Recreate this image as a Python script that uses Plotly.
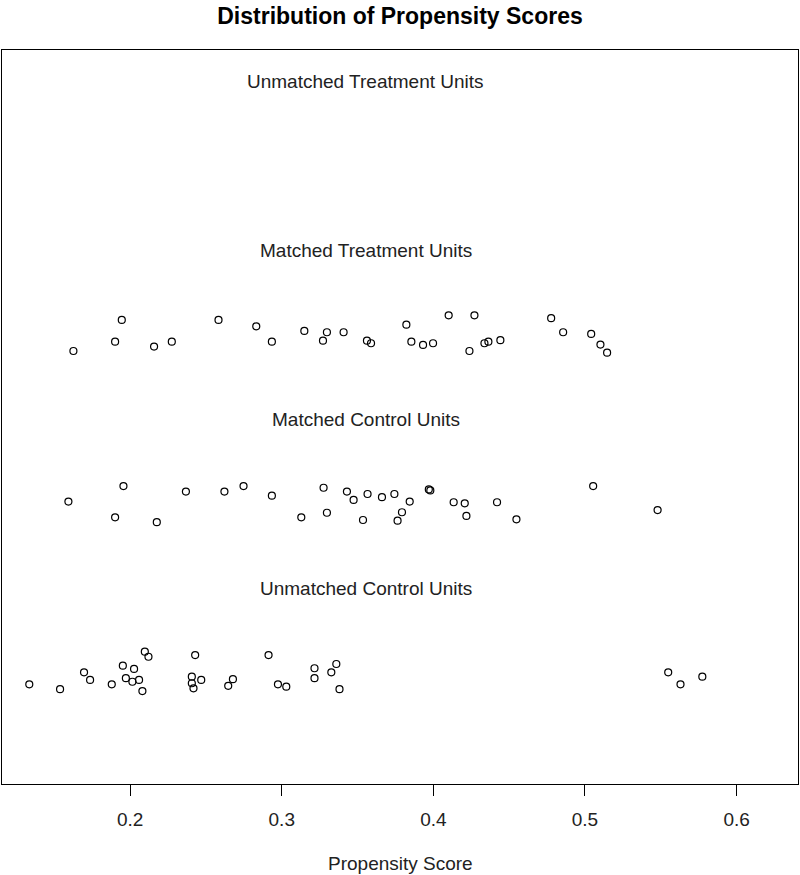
import plotly.graph_objects as go

# Matched treatment units (propensity score, jittered vertical position)
mt_x = [0.1626, 0.1945, 0.1901, 0.2158, 0.2275, 0.2583, 0.2832, 0.2935, 0.3149, 0.3298,
        0.3272, 0.3408, 0.3562, 0.3589, 0.3822, 0.4101, 0.4271, 0.3855, 0.3932, 0.3998,
        0.4238, 0.4337, 0.4363, 0.4442, 0.4777, 0.4856, 0.5041, 0.5102, 0.5146]
mt_y = [2.908, 3.092, 2.963, 2.934, 2.963, 3.092, 3.054, 2.963, 3.027, 3.019,
        2.969, 3.019, 2.969, 2.954, 3.064, 3.119, 3.119, 2.963, 2.944, 2.954,
        2.908, 2.954, 2.963, 2.972, 3.102, 3.019, 3.009, 2.946, 2.898]

# Matched control units
mc_x = [0.1593, 0.1956, 0.1901, 0.2176, 0.2368, 0.2622, 0.2748, 0.2935, 0.3129, 0.3276,
        0.3298, 0.3430, 0.3474, 0.3536, 0.3566, 0.3661, 0.3743, 0.3764, 0.3793, 0.3844,
        0.3970, 0.3980, 0.4134, 0.4207, 0.4218, 0.4420, 0.4548, 0.5054, 0.5479]
mc_y = [2.017, 2.109, 1.924, 1.895, 2.076, 2.076, 2.109, 2.052, 1.924, 2.099,
        1.951, 2.076, 2.027, 1.908, 2.062, 2.043, 2.062, 1.904, 1.954, 2.017,
        2.089, 2.083, 2.013, 2.007, 1.932, 2.013, 1.912, 2.109, 1.967]

# Unmatched control units
uc_x = [0.1335, 0.1538, 0.1696, 0.1736, 0.1879, 0.1952, 0.2026, 0.1972, 0.2015, 0.2059,
        0.2081, 0.2097, 0.2121, 0.2429, 0.2407, 0.2407, 0.2469, 0.2418, 0.2678, 0.2647,
        0.2975, 0.3030, 0.2913, 0.3216, 0.3216, 0.3327, 0.3360, 0.3381, 0.5549, 0.5630,
        0.5774]
uc_y = [0.936, 0.907, 1.007, 0.962, 0.936, 1.046, 1.027, 0.972, 0.951, 0.962,
        0.896, 1.129, 1.099, 1.109, 0.981, 0.942, 0.962, 0.912, 0.966, 0.927,
        0.936, 0.922, 1.109, 1.031, 0.972, 1.007, 1.056, 0.907, 1.007, 0.936,
        0.981]

# Unmatched treatment units: none
ut_x = []
ut_y = []

group_labels = ["Unmatched Treatment Units", "Matched Treatment Units",
                "Matched Control Units", "Unmatched Control Units"]
label_y = [4.5, 3.5, 2.5, 1.5]

tick_vals = [0.2, 0.3, 0.4, 0.5, 0.6]
tick_text = ["0.2", "0.3", "0.4", "0.5", "0.6"]

FONT = "Liberation Sans, Arial, Helvetica, sans-serif"

all_x = mt_x + mc_x + uc_x + ut_x
x_mid = (min(all_x) + max(all_x)) / 2

marker = dict(symbol="circle-open", size=7, color="black", line=dict(width=1.2, color="black"))

fig = go.Figure()
for xs, ys in [(ut_x, ut_y), (mt_x, mt_y), (mc_x, mc_y), (uc_x, uc_y)]:
    fig.add_trace(go.Scatter(x=xs, y=ys, mode="markers", marker=marker,
                             showlegend=False, hoverinfo="x"))

for txt, yy in zip(group_labels, label_y):
    fig.add_annotation(x=x_mid, y=yy, xref="x", yref="y", text=txt, showarrow=False,
                       font=dict(family=FONT, size=19, color="#222"),
                       xanchor="center", yanchor="middle")

# plot area spans 50..784 px (734 px); axis title centre at ~863 px
fig.add_annotation(x=0.5, y=-(863 - 784) / 734, xref="paper", yref="paper",
                   text="Propensity Score", showarrow=False,
                   font=dict(family=FONT, size=19, color="#222"),
                   xanchor="center", yanchor="middle")

fig.update_layout(
    width=800, height=875,
    margin=dict(l=2, r=2, t=50, b=91),
    paper_bgcolor="white", plot_bgcolor="white",
    title=dict(text="<b>Distribution of Propensity Scores</b>", x=0.5, xanchor="center",
               y=1 - 16 / 875, yanchor="middle",
               font=dict(family=FONT, size=23, color="black")),
    xaxis=dict(range=[0.1155, 0.6405], showgrid=False, zeroline=False,
               showline=True, linecolor="black", linewidth=1, mirror=True,
               ticks="outside", ticklen=11, tickwidth=1, tickcolor="black",
               tickvals=tick_vals, ticktext=tick_text, ticklabelstandoff=7,
               tickfont=dict(family=FONT, size=19, color="#222")),
    yaxis=dict(range=[0.346, 4.689], showgrid=False, zeroline=False,
               showline=True, linecolor="black", linewidth=1, mirror=True,
               showticklabels=False, ticks=""),
)

fig.write_html("out.html", config={"displayModeBar": False},
               post_script="document.body.style.margin='0';document.body.style.overflow='hidden';")
